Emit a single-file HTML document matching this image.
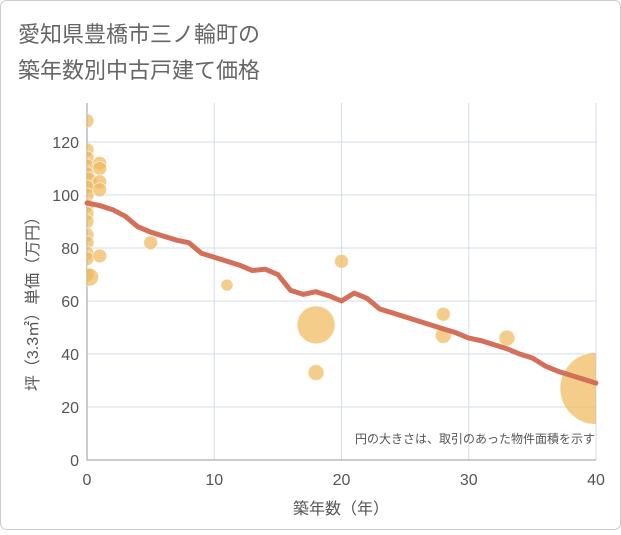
<!DOCTYPE html>
<html><head><meta charset="utf-8"><style>
body{margin:0;background:#fff;}
#c{width:621px;height:530px;position:relative;font-family:"Liberation Sans","Noto Sans CJK JP",sans-serif;}
</style></head><body>
<div id="c">
<svg id="s" width="621" height="530" xmlns="http://www.w3.org/2000/svg">
<defs><clipPath id="cp"><rect x="87" y="103" width="509" height="357"/></clipPath></defs>
<rect x="0.5" y="0.5" width="620" height="529" rx="6" fill="#fff" stroke="#ccc"/>
<text x="18" y="42" font-size="22" fill="#666">愛知県豊橋市三ノ輪町の</text>
<text x="18" y="78" font-size="22" fill="#666">築年数別中古戸建て価格</text>
<g id="grid"></g>
<g id="ticks"></g>
<g id="pts" clip-path="url(#cp)"></g>
<path id="ln" fill="none" stroke="#d4705a" stroke-width="5" stroke-linejoin="round" stroke-linecap="round"/>
<text x="595" y="443" font-size="12" fill="#555" text-anchor="end">円の大きさは、取引のあった物件面積を示す</text>
<text x="341" y="514" font-size="16" fill="#555" text-anchor="middle">築年数（年）</text>
<text transform="translate(38,300) rotate(-90)" font-size="16" fill="#555" text-anchor="middle">坪（3.3㎡）単価（万円）</text>
</svg></div>
<script>
const xTicks=[0,10,20,30,40];
const yTicks=[0,20,40,60,80,100,120];
const ptX=[0,0,0,0,0,0,0,0,0,0,0,0,0,0,0,0,0.2,1,1,1,1,1,5,11,18,18,20,28,28,33,40];
const ptY=[128,117,114,111,108,105,103,100,96,93,90,85,82,78,76,70,69,112,110,105,102,77,82,66,51,33,75,55,47,46,27];
const ptR=[7,7,7,7,7,10,7,7,7,7,7,7,7,7,7,7,9,7,7,7,7,7,7,6,19,8,7,7,8,8,36];
const lineY=[97,96,94.5,92,88,86,84.5,83,82,78,76.5,75,73.5,71.5,72,70,64,62.5,63.5,62,60,63,61,57,55.5,54,52.5,51,49.5,48,46,45,43.5,42,40,38.5,35.5,33.5,32,30.5,29];
const X0=87,X1=596,Y0=460,YT=103;
const sx=v=>X0+(X1-X0)*v/40, sy=v=>Y0-(Y0-142)*v/120;
const NS="http://www.w3.org/2000/svg";
function mk(t,a,p){const e=document.createElementNS(NS,t);for(const k in a)e.setAttribute(k,a[k]);p.appendChild(e);return e;}
const g=document.getElementById('grid'),tk=document.getElementById('ticks');
xTicks.forEach(v=>{const l=mk('line',{x1:sx(v),x2:sx(v),y1:YT,y2:Y0,stroke:'#d5dde8'},g);

const t=mk('text',{x:sx(v),y:Y0+25,'font-size':16,fill:'#555','text-anchor':'middle'},tk);t.textContent=v;
});
yTicks.forEach(v=>{const l=mk('line',{x1:X0,x2:X1,y1:sy(v),y2:sy(v),stroke:'#d5dde8'},g);

const t=mk('text',{x:X0-8,y:sy(v)+6,'font-size':16,fill:'#555','text-anchor':'end'},tk);t.textContent=v;
});
const ax=mk('path',{d:`M${X0},${YT}V${Y0}H${X1}`,stroke:'#999',fill:'none'},g);

const p=document.getElementById('pts');
ptX.forEach((x,i)=>{const c=mk('circle',{cx:sx(x),cy:sy(ptY[i]),r:ptR[i],fill:'#f0b85a','fill-opacity':0.7,stroke:'#fff','stroke-opacity':0.6},p);
});
document.getElementById('ln').setAttribute('d',lineY.map((v,i)=>(i?'L':'M')+sx(i)+','+sy(v)).join(''));
</script></body></html>
